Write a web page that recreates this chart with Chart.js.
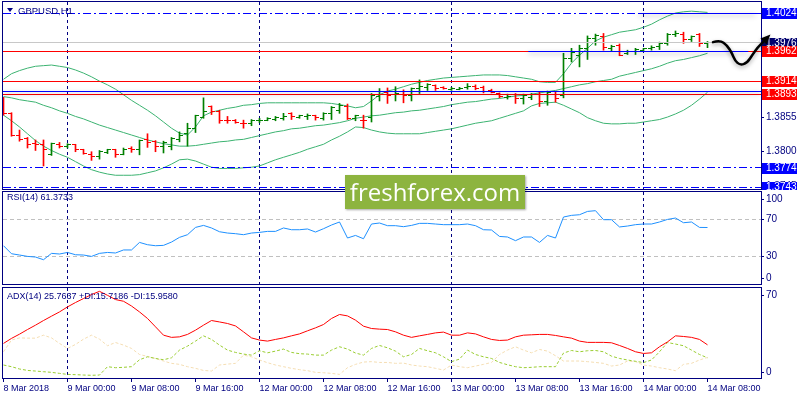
<!DOCTYPE html>
<html>
<head>
<meta charset="utf-8">
<script src="https://cdn.jsdelivr.net/npm/chart.js@4.4.1/dist/chart.umd.min.js"></script>
<style>
  html, body { margin: 0; padding: 0; background: #fff; }
  #wrap { position: relative; width: 800px; height: 400px; overflow: hidden; font-family: "Liberation Sans", Arial, sans-serif; }
  canvas { position: absolute; left: 0; }
  #cMain { top: 0; }
  #cRsi { top: 190px; }
  #cAdx { top: 286px; }
  .lbl { position: absolute; color: #000080; font-size: 9px; line-height: 11px; white-space: nowrap; }
  #tri { position: absolute; left: 7px; top: 8px; width: 0; height: 0; border-left: 3px solid transparent; border-right: 3px solid transparent; border-top: 4px solid #000080; }
  #wm { position: absolute; left: 345px; top: 175px; width: 180px; height: 34px; background: #8db43f; color: #fff;
        font-family: "Open Sans", sans-serif; font-size: 24px; line-height: 33px; text-align: center; box-shadow: 1px 1px 2px rgba(0,0,0,.35); }
</style>
</head>
<body>
<div id="wrap">
  <canvas id="cMain" width="800" height="190"></canvas>
  <canvas id="cRsi" width="800" height="96"></canvas>
  <canvas id="cAdx" width="800" height="114"></canvas>
  <div id="tri"></div>
  <div class="lbl" id="title" style="left:18px;top:5px;font-size:9.5px;">GBPUSD,H1</div>
  <div class="lbl" style="left:7px;top:192px;">RSI(14) 61.3733</div>
  <div class="lbl" style="left:7px;top:291px;">ADX(14) 25.7637 +DI:15.7186 -DI:15.9580</div>
  <div id="wm">freshforex.com</div>
</div>
<script>
'use strict';

// ---- data (GBPUSD H1, 8 Mar 16:00 .. 14 Mar 08:00) ----
const timeTickIdx = [0, 8, 16, 24, 32, 40, 48, 56, 64, 72, 80, 88];
const timeLabels = ['8 Mar 2018', '9 Mar 00:00', '9 Mar 08:00', '9 Mar 16:00', '12 Mar 00:00', '12 Mar 08:00',
  '12 Mar 16:00', '13 Mar 00:00', '13 Mar 08:00', '13 Mar 16:00', '14 Mar 00:00', '14 Mar 08:00'];
const daySeparators = [8, 32, 56, 80];

const opens = [1.3887, 1.3862, 1.3826, 1.3821, 1.3813, 1.3811, 1.3795, 1.3812, 1.3808, 1.3812,
  1.3803, 1.3796, 1.3792, 1.3798, 1.3803, 1.3796, 1.3806, 1.3804, 1.3820, 1.3816,
  1.3809, 1.3809, 1.3820, 1.3830, 1.3838, 1.3856, 1.3873, 1.3865, 1.3851, 1.3850,
  1.3846, 1.3845, 1.3850, 1.3851, 1.3852, 1.3854, 1.3861, 1.3856, 1.3857, 1.3858,
  1.3854, 1.3862, 1.3867, 1.3873, 1.3854, 1.3851, 1.3855, 1.3889, 1.3896, 1.3892,
  1.3897, 1.3890, 1.3902, 1.3903, 1.3907, 1.3903, 1.3901, 1.3901, 1.3903, 1.3906,
  1.3904, 1.3899, 1.3894, 1.3887, 1.3893, 1.3886, 1.3887, 1.3893, 1.3881, 1.3893,
  1.3890, 1.3951, 1.3956, 1.3967, 1.3983, 1.3986, 1.3967, 1.3972, 1.3959, 1.3962,
  1.3964, 1.3967, 1.3970, 1.3975, 1.3990, 1.3990, 1.3982, 1.3990, 1.3974];
const highs = [1.3888, 1.3863, 1.3835, 1.3823, 1.3819, 1.3819, 1.3814, 1.3815, 1.3813, 1.3812,
  1.3804, 1.3800, 1.3802, 1.3804, 1.3804, 1.3806, 1.3808, 1.3819, 1.3829, 1.3818,
  1.3817, 1.3823, 1.3832, 1.3846, 1.3859, 1.3887, 1.3874, 1.3867, 1.3857, 1.3852,
  1.3851, 1.3852, 1.3854, 1.3855, 1.3857, 1.3862, 1.3863, 1.3859, 1.3861, 1.3859,
  1.3863, 1.3873, 1.3878, 1.3877, 1.3859, 1.3859, 1.3894, 1.3902, 1.3903, 1.3905,
  1.3900, 1.3903, 1.3916, 1.3910, 1.3908, 1.3905, 1.3904, 1.3904, 1.3910, 1.3908,
  1.3906, 1.3901, 1.3895, 1.3893, 1.3894, 1.3893, 1.3894, 1.3896, 1.3898, 1.3896,
  1.3959, 1.3967, 1.3972, 1.3987, 1.3990, 1.3991, 1.3972, 1.3974, 1.3964, 1.3967,
  1.3967, 1.3971, 1.3977, 1.3991, 1.3995, 1.3993, 1.3987, 1.3991, 1.3978];
const lows = [1.3859, 1.3825, 1.3817, 1.3806, 1.3802, 1.3777, 1.3794, 1.3806, 1.3806, 1.3800,
  1.3796, 1.3786, 1.3788, 1.3797, 1.3791, 1.3795, 1.3799, 1.3795, 1.3807, 1.3800,
  1.3798, 1.3803, 1.3816, 1.3809, 1.3831, 1.3854, 1.3860, 1.3846, 1.3846, 1.3846,
  1.3838, 1.3842, 1.3847, 1.3850, 1.3850, 1.3851, 1.3852, 1.3854, 1.3852, 1.3851,
  1.3851, 1.3852, 1.3862, 1.3852, 1.3850, 1.3838, 1.3848, 1.3882, 1.3878, 1.3882,
  1.3879, 1.3882, 1.3894, 1.3899, 1.3899, 1.3901, 1.3899, 1.3900, 1.3901, 1.3900,
  1.3895, 1.3895, 1.3887, 1.3885, 1.3878, 1.3877, 1.3884, 1.3873, 1.3875, 1.3880,
  1.3887, 1.3945, 1.3937, 1.3949, 1.3972, 1.3964, 1.3962, 1.3955, 1.3957, 1.3957,
  1.3962, 1.3964, 1.3965, 1.3972, 1.3986, 1.3975, 1.3978, 1.3970, 1.3968];
const closes = [1.3862, 1.3827, 1.3819, 1.3812, 1.3811, 1.3804, 1.3813, 1.3809, 1.3812, 1.3803,
  1.3797, 1.3792, 1.3800, 1.3803, 1.3796, 1.3804, 1.3803, 1.3818, 1.3815, 1.3809,
  1.3815, 1.3821, 1.3827, 1.3838, 1.3858, 1.3865, 1.3865, 1.3850, 1.3850, 1.3847,
  1.3845, 1.3850, 1.3851, 1.3853, 1.3856, 1.3857, 1.3857, 1.3858, 1.3858, 1.3856,
  1.3861, 1.3871, 1.3874, 1.3854, 1.3858, 1.3850, 1.3890, 1.3898, 1.3890, 1.3894,
  1.3890, 1.3902, 1.3905, 1.3908, 1.3902, 1.3902, 1.3902, 1.3902, 1.3905, 1.3902,
  1.3897, 1.3896, 1.3889, 1.3889, 1.3886, 1.3890, 1.3892, 1.3881, 1.3896, 1.3886,
  1.3951, 1.3961, 1.3967, 1.3983, 1.3987, 1.3968, 1.3970, 1.3956, 1.3962, 1.3965,
  1.3967, 1.3969, 1.3975, 1.3990, 1.3991, 1.3982, 1.3986, 1.3974, 1.3976];

const bbUpper = [1.3917, 1.3926, 1.3931, 1.3935, 1.3938, 1.3939, 1.3940, 1.3938, 1.3936, 1.3932,
  1.3927, 1.3921, 1.3914, 1.3908, 1.3901, 1.3892, 1.3883, 1.3875, 1.3867, 1.3858,
  1.3848, 1.3838, 1.3830, 1.3827, 1.3840, 1.3858, 1.3864, 1.3867, 1.3870, 1.3872,
  1.3875, 1.3876, 1.3878, 1.3879, 1.3879, 1.3879, 1.3879, 1.3879, 1.3879, 1.3879,
  1.3879, 1.3878, 1.3876, 1.3874, 1.3871, 1.3873, 1.3882, 1.3892, 1.3898, 1.3901,
  1.3905, 1.3909, 1.3912, 1.3915, 1.3917, 1.3919, 1.3920, 1.3921, 1.3922, 1.3923,
  1.3924, 1.3924, 1.3924, 1.3923, 1.3921, 1.3919, 1.3917, 1.3913, 1.3912, 1.3912,
  1.3926, 1.3943, 1.3956, 1.3967, 1.3979, 1.3985, 1.3989, 1.3993, 1.3995, 1.3997,
  1.4001, 1.4006, 1.4013, 1.4019, 1.4024, 1.4026, 1.4027, 1.4026, 1.4025];
const bbMiddle = [1.3889, 1.3887, 1.3884, 1.3882, 1.3880, 1.3875, 1.3871, 1.3866, 1.3862, 1.3857,
  1.3853, 1.3848, 1.3843, 1.3839, 1.3835, 1.3831, 1.3827, 1.3823, 1.3819, 1.3816,
  1.3813, 1.3811, 1.3809, 1.3809, 1.3810, 1.3812, 1.3814, 1.3816, 1.3817, 1.3819,
  1.3820, 1.3823, 1.3826, 1.3829, 1.3832, 1.3834, 1.3837, 1.3838, 1.3840, 1.3842,
  1.3843, 1.3845, 1.3847, 1.3850, 1.3854, 1.3856, 1.3858, 1.3859, 1.3861, 1.3863,
  1.3864, 1.3866, 1.3867, 1.3869, 1.3871, 1.3873, 1.3876, 1.3878, 1.3880, 1.3881,
  1.3883, 1.3885, 1.3886, 1.3888, 1.3890, 1.3891, 1.3893, 1.3895, 1.3897, 1.3899,
  1.3902, 1.3905, 1.3908, 1.3910, 1.3913, 1.3915, 1.3917, 1.3922, 1.3925, 1.3928,
  1.3931, 1.3934, 1.3938, 1.3943, 1.3947, 1.3949, 1.3952, 1.3955, 1.3959];
const bbLower = [1.3859, 1.3850, 1.3840, 1.3829, 1.3818, 1.3809, 1.3802, 1.3796, 1.3791, 1.3784,
  1.3777, 1.3771, 1.3767, 1.3764, 1.3762, 1.3762, 1.3762, 1.3763, 1.3766, 1.3769,
  1.3774, 1.3780, 1.3787, 1.3788, 1.3785, 1.3780, 1.3775, 1.3773, 1.3773, 1.3773,
  1.3774, 1.3775, 1.3777, 1.3782, 1.3787, 1.3791, 1.3795, 1.3799, 1.3804, 1.3808,
  1.3812, 1.3819, 1.3825, 1.3832, 1.3840, 1.3839, 1.3835, 1.3832, 1.3830, 1.3829,
  1.3829, 1.3829, 1.3829, 1.3831, 1.3833, 1.3835, 1.3837, 1.3840, 1.3843, 1.3846,
  1.3848, 1.3850, 1.3854, 1.3858, 1.3862, 1.3866, 1.3874, 1.3878, 1.3879, 1.3880,
  1.3875, 1.3869, 1.3863, 1.3855, 1.3850, 1.3846, 1.3845, 1.3845, 1.3846, 1.3846,
  1.3848, 1.3850, 1.3852, 1.3856, 1.3861, 1.3867, 1.3875, 1.3885, 1.3896];

const rsiValues = [41.6, 32.9, 31.5, 30.0, 29.3, 26.4, 33.3, 32.6, 34.3, 31.8,
  31.5, 30.0, 33.3, 34.3, 33.7, 37.0, 37.0, 45.2, 42.7, 41.6,
  42.0, 45.6, 50.7, 53.6, 61.5, 63.7, 60.9, 56.8, 55.4, 54.7,
  53.6, 55.4, 56.1, 57.2, 57.2, 60.9, 59.0, 59.0, 59.8, 56.5,
  60.1, 64.1, 67.4, 50.0, 52.8, 49.2, 65.2, 66.3, 63.4, 63.4,
  62.3, 63.7, 65.9, 65.9, 65.2, 64.5, 64.5, 64.5, 65.2, 63.4,
  59.0, 58.7, 51.7, 51.1, 47.1, 51.1, 51.1, 45.2, 52.8, 50.0,
  72.8, 74.6, 75.3, 78.9, 79.7, 69.9, 69.9, 62.0, 63.0, 64.5,
  65.2, 65.2, 67.4, 70.2, 71.7, 66.6, 67.4, 61.5, 61.4];
const rsiLevels = [70, 30];
const rsiAxisLabels = [100, 70, 30, 0];

const adxValues = [26.9, 30.8, 34.1, 37.7, 41.1, 44.7, 48.1, 51.4, 55.3, 58.7,
  61.8, 64.9, 67.4, 64.3, 61.0, 59.7, 56.0, 51.4, 46.3, 39.8,
  33.3, 31.6, 32.0, 33.9, 37.2, 41.1, 44.7, 43.6, 42.4, 40.5,
  35.9, 31.2, 29.5, 28.7, 30.0, 31.2, 32.8, 34.3, 36.7, 39.0,
  41.6, 46.3, 49.4, 48.3, 45.0, 40.3, 38.5, 38.0, 37.7, 35.9,
  33.3, 31.6, 32.8, 33.9, 35.1, 35.7, 33.3, 33.3, 35.1, 34.3,
  32.0, 30.0, 29.2, 29.5, 32.0, 33.3, 33.6, 33.9, 33.9, 33.1,
  32.0, 31.0, 28.7, 27.7, 27.7, 27.7, 27.4, 25.3, 23.0, 20.4,
  19.1, 19.6, 24.3, 28.1, 32.8, 32.3, 31.6, 30.0, 25.8];
const plusDI = [10.1, 8.8, 7.0, 5.9, 5.4, 4.9, 4.4, 3.6, 2.8, 2.6,
  2.3, 2.1, 2.3, 8.8, 8.0, 8.3, 8.8, 14.2, 16.5, 15.2,
  14.2, 15.7, 21.7, 24.8, 28.7, 32.8, 30.0, 25.6, 21.7, 19.9,
  18.6, 17.8, 21.2, 19.6, 20.9, 22.5, 19.9, 18.9, 18.6, 17.8,
  17.8, 21.7, 24.3, 22.5, 19.4, 17.8, 23.0, 25.3, 23.5, 20.9,
  16.5, 18.3, 23.0, 21.2, 19.6, 16.5, 12.7, 14.7, 21.7, 18.3,
  16.5, 15.2, 12.1, 10.3, 8.8, 8.0, 8.3, 8.8, 8.8, 8.8,
  19.4, 21.4, 20.4, 21.2, 21.4, 20.4, 17.0, 15.2, 14.0, 13.0,
  12.0, 14.0, 20.4, 27.6, 26.4, 25.1, 21.7, 18.3, 15.7];
const minusDI = [20.4, 29.5, 31.2, 31.0, 31.0, 33.3, 31.2, 26.9, 23.0, 26.1,
  30.2, 33.3, 30.2, 25.1, 27.6, 25.6, 23.0, 18.3, 16.8, 15.2,
  13.2, 11.4, 10.6, 8.8, 7.5, 5.9, 5.4, 10.1, 10.8, 11.4,
  17.8, 16.5, 14.0, 11.9, 10.1, 8.8, 7.5, 6.5, 5.7, 4.4,
  4.1, 3.6, 2.8, 8.0, 10.6, 12.4, 12.7, 12.1, 12.1, 11.4,
  11.6, 10.1, 9.3, 8.8, 7.5, 6.2, 10.1, 8.8, 8.0, 9.3,
  10.6, 12.1, 18.3, 21.7, 24.3, 21.7, 19.6, 22.2, 20.9, 17.3,
  13.2, 13.2, 13.2, 12.7, 12.1, 11.4, 9.3, 10.1, 13.2, 12.7,
  10.1, 9.3, 8.0, 7.0, 5.7, 10.6, 11.4, 14.0, 16.0];
const adxAxisLabels = [70, 0];

const priceTicks = [1.3745, 1.3800, 1.3855, 1.3910, 1.3965, 1.4020];
const bidPrice = 1.3976;
const redLevels = [1.3962, 1.3914, 1.3893];
const blueLevels = [1.4024, 1.3774, 1.3743];
const channelLevels = [1.3898];
// [fromBar, toBar, price]
const trendSegments = [[79.4, 94.0, 1.4024], [65.6, 93.1, 1.3962]];
// hand drawn forecast arrow, [bar, price]
const arrowPath = [[88.69, 1.3977], [89.56, 1.3980], [90.44, 1.3972], [91.06, 1.3959], [91.44, 1.3947],
  [92.06, 1.3940], [92.94, 1.3943], [93.69, 1.3958], [94.31, 1.3969], [94.94, 1.3977]];
const arrowTip = [95.69, 1.3987];

// ---- look ----
const NAVY = '#000080';
const BULL = '#008000';
const BEAR = '#ff0000';
const FONT = '"Liberation Sans", Arial, sans-serif';
const X_MIN = -0.0625;
const X_MAX = X_MIN + 758 / 8;

function tickImage(color, left) {
  const c = document.createElement('canvas');
  c.width = 7;
  c.height = 1;
  const g = c.getContext('2d');
  g.fillStyle = color;
  g.fillRect(left ? 0 : 4, 0, 3, 1);
  return c;
}
const openTicks = { up: tickImage(BULL, true), down: tickImage(BEAR, true) };
const closeTicks = { up: tickImage(BULL, false), down: tickImage(BEAR, false) };
const isUp = i => closes[i] >= opens[i];
const xy = arr => arr.map((v, i) => ({ x: i, y: v }));

function noPad(s) {
  s.paddingTop = 0;
  s.paddingBottom = 0;
  s.paddingLeft = 0;
  s.paddingRight = 0;
}

function xAxis(show) {
  return {
    type: 'linear', min: X_MIN, max: X_MAX, offset: false, display: show,
    afterBuildTicks: s => { s.ticks = timeTickIdx.map(v => ({ value: v })); },
    afterFit: s => { if (show) s.height = 22; noPad(s); },
    ticks: {
      autoSkip: false, maxRotation: 0, minRotation: 0, align: 'start', padding: 1,
      color: NAVY, font: { family: FONT, size: 9 },
      callback: v => timeLabels[timeTickIdx.indexOf(v)]
    },
    grid: { drawOnChartArea: false, tickLength: 4, color: NAVY },
    border: { display: false }
  };
}

// right-hand value axis; its labels are drawn by the sideAxis plugin
function rightY(min, max) {
  return {
    position: 'right', min, max,
    afterFit: s => { s.width = 39; noPad(s); },
    ticks: { display: false },
    grid: { display: false },
    border: { display: false }
  };
}

const panelFrame = {
  id: 'panelFrame',
  beforeDatasetsDraw(chart) {
    const { ctx, chartArea: a, scales: { x } } = chart;
    ctx.save();
    ctx.strokeStyle = NAVY;
    ctx.lineWidth = 1;
    ctx.setLineDash([3, 3]);
    daySeparators.forEach(i => {
      const px = Math.floor(x.getPixelForValue(i)) + 0.5;
      ctx.beginPath();
      ctx.moveTo(px, a.top);
      ctx.lineTo(px, a.bottom);
      ctx.stroke();
    });
    ctx.restore();
  },
  afterDraw(chart) {
    const { ctx, chartArea: a } = chart;
    ctx.save();
    ctx.strokeStyle = NAVY;
    ctx.lineWidth = 1;
    ctx.strokeRect(Math.floor(a.left) - 0.5, Math.floor(a.top) - 0.5,
      Math.round(a.right - a.left) + 1, Math.round(a.bottom - a.top) + 1);
    ctx.restore();
  }
};

// dashed level lines and scale labels at the right edge
// (indicator windows keep their end labels inside the window, like MT4)
const sideAxis = {
  id: 'sideAxis',
  beforeDatasetsDraw(chart, args, opts) {
    const { ctx, chartArea: a, scales: { y } } = chart;
    ctx.save();
    ctx.strokeStyle = '#c0c0c0';
    ctx.setLineDash([4, 3]);
    (opts.levels || []).forEach(v => {
      const py = Math.floor(y.getPixelForValue(v)) + 0.5;
      ctx.beginPath();
      ctx.moveTo(a.left, py);
      ctx.lineTo(a.right, py);
      ctx.stroke();
    });
    ctx.restore();
  },
  afterDraw(chart, args, opts) {
    const { ctx, chartArea: a, scales: { y } } = chart;
    ctx.save();
    ctx.fillStyle = NAVY;
    ctx.strokeStyle = NAVY;
    ctx.font = '10px ' + FONT;
    ctx.textBaseline = 'middle';
    (opts.labels || []).forEach(v => {
      let py = y.getPixelForValue(v);
      if (opts.inset) py = Math.min(Math.max(py, a.top + 7), a.bottom - 6);
      ctx.beginPath();
      ctx.moveTo(a.right, Math.floor(py) + 0.5);
      ctx.lineTo(a.right + 3, Math.floor(py) + 0.5);
      ctx.stroke();
      ctx.fillText(opts.digits ? v.toFixed(opts.digits) : String(v), a.right + 5, py);
    });
    ctx.restore();
  }
};

const mainOverlay = {
  id: 'mainOverlay',
  afterDatasetsDraw(chart) {
    const { ctx, chartArea: a, scales: { x, y } } = chart;
    const hline = (p, color, dash, x0, x1, shadow) => {
      const py = Math.floor(y.getPixelForValue(p)) + 0.5;
      ctx.save();
      ctx.strokeStyle = color;
      ctx.lineWidth = 1;
      ctx.setLineDash(dash);
      if (shadow) {
        ctx.shadowColor = 'rgba(0,0,0,0.4)';
        ctx.shadowBlur = 5;
        ctx.shadowOffsetY = 2;
      }
      ctx.beginPath();
      ctx.moveTo(x0, py);
      ctx.lineTo(x1, py);
      ctx.stroke();
      ctx.restore();
    };
    ctx.save();
    ctx.beginPath();
    ctx.rect(a.left, a.top, a.right - a.left, a.bottom - a.top);
    ctx.clip();
    hline(bidPrice, '#c8c8c8', [], a.left, a.right);
    redLevels.forEach(p => hline(p, '#ff0000', [], a.left, a.right));
    blueLevels.forEach(p => hline(p, '#0000ff', [8, 3, 2, 3], a.left, a.right));
    channelLevels.forEach(p => hline(p, '#0000ff', [], a.left, a.right, true));
    trendSegments.forEach(([i0, i1, p]) => hline(p, '#0000ff', [], x.getPixelForValue(i0), x.getPixelForValue(i1), true));
    ctx.restore();
  },
  afterDraw(chart) {
    const { ctx, chartArea: a, scales: { x, y } } = chart;
    ctx.save();
    ctx.font = '10px ' + FONT;
    ctx.textBaseline = 'middle';
    const box = (p, bg) => {
      const py = Math.round(y.getPixelForValue(p));
      ctx.fillStyle = bg;
      ctx.fillRect(a.right + 1, py - 5, 35, 11);
      ctx.fillStyle = '#ffffff';
      ctx.fillText(p.toFixed(4), a.right + 5, py + 0.5);
    };
    blueLevels.forEach(p => box(p, '#0000ff'));
    box(bidPrice, '#000070');
    redLevels.forEach(p => box(p, '#ff0000'));

    // forecast arrow
    const pts = arrowPath.map(([i, p]) => [x.getPixelForValue(i), y.getPixelForValue(p)]);
    ctx.strokeStyle = '#000';
    ctx.fillStyle = '#000';
    ctx.lineWidth = 2.5;
    ctx.lineCap = 'round';
    ctx.lineJoin = 'round';
    ctx.shadowColor = 'rgba(0,0,0,0.35)';
    ctx.shadowBlur = 4;
    ctx.shadowOffsetY = 2;
    ctx.beginPath();
    ctx.moveTo(pts[0][0], pts[0][1]);
    for (let k = 1; k < pts.length - 1; k++) {
      const mx = (pts[k][0] + pts[k + 1][0]) / 2;
      const my = (pts[k][1] + pts[k + 1][1]) / 2;
      ctx.quadraticCurveTo(pts[k][0], pts[k][1], mx, my);
    }
    const last = pts[pts.length - 1];
    ctx.lineTo(last[0], last[1]);
    ctx.stroke();
    const tx = x.getPixelForValue(arrowTip[0]);
    const ty = y.getPixelForValue(arrowTip[1]);
    const ang = Math.atan2(ty - last[1], tx - last[0]);
    ctx.beginPath();
    ctx.moveTo(tx + 2 * Math.cos(ang), ty + 2 * Math.sin(ang));
    ctx.lineTo(tx - 9 * Math.cos(ang - 0.5), ty - 9 * Math.sin(ang - 0.5));
    ctx.lineTo(tx - 9 * Math.cos(ang + 0.5), ty - 9 * Math.sin(ang + 0.5));
    ctx.closePath();
    ctx.fill();
    ctx.restore();
  }
};

const common = {
  responsive: false,
  animation: false,
  events: [],
  devicePixelRatio: 1
};
const noLegend = { legend: { display: false }, tooltip: { enabled: false } };

// ---- main window: OHLC bars + Bollinger bands ----
new Chart(document.getElementById('cMain'), {
  type: 'line',
  data: {
    datasets: [
      { data: xy(opens), showLine: false, pointRadius: 3, clip: 0,
        pointStyle: c => isUp(c.dataIndex) ? openTicks.up : openTicks.down },
      { data: xy(closes), showLine: false, pointRadius: 3, clip: 0,
        pointStyle: c => isUp(c.dataIndex) ? closeTicks.up : closeTicks.down },
      { type: 'bar', data: lows.map((v, i) => ({ x: i, y: [v, highs[i]] })), clip: 0,
        backgroundColor: opens.map((v, i) => isUp(i) ? BULL : BEAR), barThickness: 1, borderWidth: 0 },
      { data: xy(bbUpper), borderColor: '#3cb371', borderWidth: 1, pointRadius: 0 },
      { data: xy(bbMiddle), borderColor: '#3cb371', borderWidth: 1, pointRadius: 0 },
      { data: xy(bbLower), borderColor: '#3cb371', borderWidth: 1, pointRadius: 0 }
    ]
  },
  options: {
    ...common,
    plugins: { ...noLegend, sideAxis: { levels: [], labels: priceTicks, digits: 4, inset: false } },
    layout: { autoPadding: false, padding: { top: 2, bottom: 1, left: 3, right: 0 } },
    scales: { x: xAxis(false), y: rightY(1.37398, 1.40418) }
  },
  plugins: [panelFrame, sideAxis, mainOverlay]
});

// ---- RSI(14) ----
new Chart(document.getElementById('cRsi'), {
  type: 'line',
  data: { datasets: [{ data: xy(rsiValues), borderColor: '#1e90ff', borderWidth: 1, pointRadius: 0 }] },
  options: {
    ...common,
    plugins: { ...noLegend, sideAxis: { levels: rsiLevels, labels: rsiAxisLabels, inset: true } },
    layout: { autoPadding: false, padding: { top: 2, bottom: 2, left: 3, right: 0 } },
    scales: { x: xAxis(false), y: rightY(0, 100) }
  },
  plugins: [panelFrame, sideAxis]
});

// ---- ADX(14) ----
new Chart(document.getElementById('cAdx'), {
  type: 'line',
  data: {
    datasets: [
      { data: xy(adxValues), borderColor: '#ff0000', borderWidth: 1, pointRadius: 0 },
      { data: xy(plusDI), borderColor: '#9acd32', borderWidth: 1, pointRadius: 0, borderDash: [3, 2] },
      { data: xy(minusDI), borderColor: '#f5deb3', borderWidth: 1, pointRadius: 0, borderDash: [3, 2] }
    ]
  },
  options: {
    ...common,
    plugins: { ...noLegend, sideAxis: { levels: [], labels: adxAxisLabels, inset: true } },
    layout: { autoPadding: false, padding: { top: 2, bottom: 0, left: 3, right: 0 } },
    scales: { x: xAxis(true), y: rightY(0, 70) }
  },
  plugins: [panelFrame, sideAxis]
});
</script>
</body>
</html>
